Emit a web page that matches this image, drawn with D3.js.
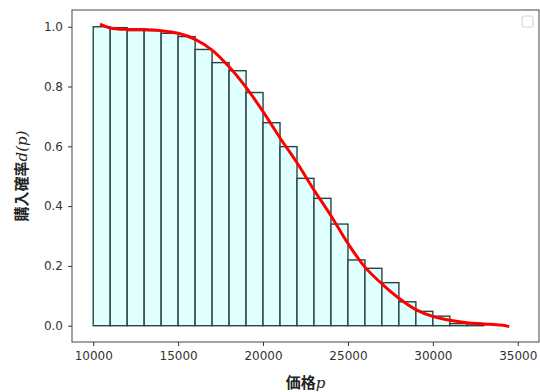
<!DOCTYPE html>
<html>
<head>
<meta charset="utf-8">
<script src="https://cdn.jsdelivr.net/npm/d3@7"></script>
<style>
  body { margin: 0; background: #fff; }
  svg { display: block; }
  .tick text { font-family: 'DejaVu Sans', sans-serif; font-size: 12px; fill: #333; }
  .tick line { stroke: #333; }
</style>
</head>
<body>
<svg id="chart" width="540" height="392"></svg>
<script>
// bar left edges (price bins of width 1000) and purchase rate per bin
const binStarts = [10000, 11000, 12000, 13000, 14000, 15000, 16000, 17000, 18000, 19000,
  20000, 21000, 22000, 23000, 24000, 25000, 26000, 27000, 28000, 29000,
  30000, 31000, 32000, 33000, 34000];
const binRates = [1.0, 0.997, 0.987, 0.987, 0.978, 0.967, 0.924, 0.880, 0.853, 0.780,
  0.679, 0.599, 0.493, 0.426, 0.340, 0.220, 0.192, 0.144, 0.080, 0.048,
  0.032, 0.007, 0.002, 0, 0];
const binWidth = 1000;

// fitted curve
const curvePrice = [10400, 11000, 12000, 13000, 14000, 15000, 16000, 17000, 18000, 19000,
  20000, 21000, 22000, 23000, 24000, 25000, 26000, 27000, 28000, 29000,
  30000, 31000, 32000, 33000, 34000, 34500];
const curveRate = [1.009, 0.996, 0.991, 0.991, 0.987, 0.978, 0.958, 0.922, 0.866, 0.797,
  0.716, 0.628, 0.545, 0.454, 0.368, 0.275, 0.196, 0.140, 0.092, 0.054,
  0.031, 0.018, 0.010, 0.006, 0.002, -0.003];

const xTicks = [10000, 15000, 20000, 25000, 30000, 35000];
const yTicks = [0.0, 0.2, 0.4, 0.6, 0.8, 1.0];

const svg = d3.select('#chart'),
  margin = {top: 10, right: 1, bottom: 50, left: 72},
  width = +svg.attr('width') - margin.left - margin.right,
  height = +svg.attr('height') - margin.top - margin.bottom;

const x = d3.scaleLinear().domain([8750, 36250]).range([0, width]),
  y = d3.scaleLinear().domain([-0.0545, 1.056]).range([height, 0]);

const g = svg.append('g')
  .attr('transform', 'translate(' + margin.left + ',' + margin.top + ')');

const bars = binStarts.map((b, i) => ({ start: b, value: binRates[i] }));

g.selectAll('.bar')
  .data(bars)
  .enter().append('rect')
    .attr('class', 'bar')
    .attr('x', d => x(d.start))
    .attr('y', d => y(d.value))
    .attr('width', d => x(d.start + binWidth) - x(d.start))
    .attr('height', d => y(0) - y(d.value))
    .attr('fill', '#e0ffff')
    .attr('stroke', '#2a4444')
    .attr('stroke-width', 1.4);

const line = d3.line()
  .x((d, i) => x(curvePrice[i]))
  .y(d => y(d))
  .curve(d3.curveCatmullRom);

g.append('path')
  .datum(curveRate)
  .attr('d', line)
  .attr('fill', 'none')
  .attr('stroke', '#ff0000')
  .attr('stroke-width', 3);

g.append('g')
  .attr('transform', 'translate(0,' + height + ')')
  .call(d3.axisBottom(x).tickValues(xTicks).tickFormat(d3.format('d')).tickSize(4).tickPadding(5))
  .call(a => a.select('.domain').remove());

g.append('g')
  .call(d3.axisLeft(y).tickValues(yTicks).tickFormat(d3.format('.1f')).tickSize(4).tickPadding(5))
  .call(a => a.select('.domain').remove());

// frame
g.append('rect')
  .attr('width', width)
  .attr('height', height)
  .attr('fill', 'none')
  .attr('stroke', '#444')
  .attr('stroke-width', 1);

// empty legend box
g.append('rect')
  .attr('x', width - 17)
  .attr('y', 6)
  .attr('width', 11)
  .attr('height', 11)
  .attr('rx', 2)
  .attr('fill', '#fff')
  .attr('stroke', '#d0d0d0')
  .attr('stroke-width', 1);

// axis labels
const xl = svg.append('text')
  .attr('x', margin.left + width / 2)
  .attr('y', 388)
  .attr('text-anchor', 'middle')
  .style('font-family', "'Noto Sans CJK JP', sans-serif")
  .style('font-size', '15px')
  .style('font-weight', 'bold')
  .style('fill', '#222');
xl.append('tspan').text('価格');
xl.append('tspan').text('p')
  .style('font-family', "'DejaVu Serif', serif")
  .style('font-style', 'italic')
  .style('font-weight', 'normal');

const yl = svg.append('text')
  .attr('transform', 'translate(27,' + (margin.top + height / 2) + ') rotate(-90)')
  .attr('text-anchor', 'middle')
  .style('font-family', "'Noto Sans CJK JP', sans-serif")
  .style('font-size', '15px')
  .style('font-weight', 'bold')
  .style('fill', '#222');
yl.append('tspan').text('購入確率');
yl.append('tspan').text('d(p)')
  .style('font-family', "'DejaVu Serif', serif")
  .style('font-style', 'italic')
  .style('font-weight', 'normal');
</script>
</body>
</html>
